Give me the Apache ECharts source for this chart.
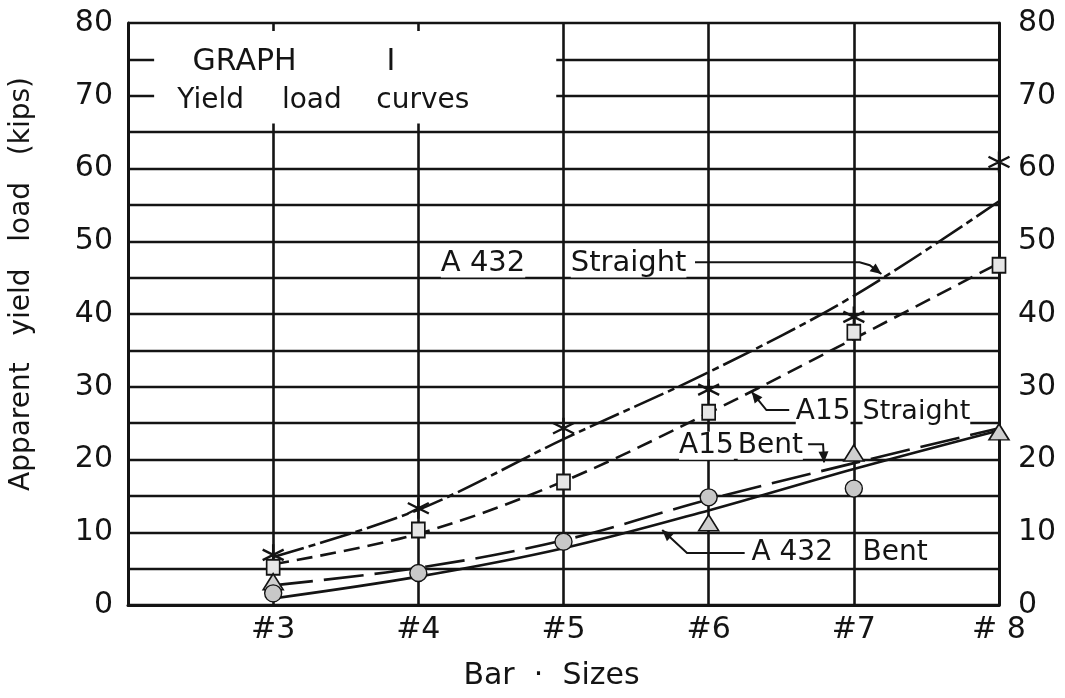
<!DOCTYPE html>
<html><head><meta charset="utf-8">
<script src="https://cdn.jsdelivr.net/npm/echarts@6/dist/echarts.min.js"></script>
<style>html,body{margin:0;padding:0;background:#fff}#c{width:1065px;height:698px}</style>
</head><body><div id="c"></div>
<script>
// ---- data ----
const barSizes = [3, 4, 5, 6, 7, 8];
const xTickLabels = ['', '#3', '#4', '#5', '#6', '#7', '# 8']; // for x = 2..8
const yTickLabels = ['0', '10', '20', '30', '40', '50', '60', '70', '80'];
// fitted curves
const a432StraightCurve = [6.6, 13.1, 22.8, 32.0, 42.5, 55.5];
const a15StraightCurve  = [5.6, 9.8, 17.0, 26.4, 36.6, 47.0];
const a15BentCurve      = [2.7, 5.1, 8.9, 14.5, 19.5, 24.3];
const a432BentCurve     = [0.9, 3.9, 7.8, 13.0, 18.7, 24.0];
// measured points
const a432StraightPts = [6.9, 13.3, 24.3, 29.6, 39.6, 60.9];
const a15StraightPts  = [5.2, 10.3, 16.9, 26.5, 37.5, 46.7];
const a15BentPts      = [3.2, null, null, 11.3, 20.9, 23.8];
const a432BentPts     = [1.6, 4.4, 8.7, 14.8, 16.0, null];

// ---- annotation layout (data coordinates) ----
const FONT = '"DejaVu Sans", sans-serif';
const notes = [
  {t: 'GRAPH', x: 2.445, y: 74.6, s: 30},
  {t: 'I', x: 3.78, y: 74.6, s: 30},
  {t: 'Yield', x: 2.34, y: 69.3, s: 28},
  {t: 'load', x: 3.06, y: 69.3, s: 28},
  {t: 'curves', x: 3.71, y: 69.3, s: 28},
  {t: 'A 432', x: 4.155, y: 47.0, s: 29},
  {t: 'Straight', x: 5.05, y: 47.0, s: 29},
  {t: 'A15', x: 6.60, y: 26.5, s: 28},
  {t: 'Straight', x: 7.06, y: 26.5, s: 27},
  {t: 'A15', x: 5.796, y: 21.9, s: 28},
  {t: 'Bent', x: 6.20, y: 21.9, s: 28},
  {t: 'A 432', x: 6.295, y: 7.15, s: 28},
  {t: 'Bent', x: 7.06, y: 7.15, s: 28}
];
const leaders = [
  [[5.906, 47.1], [7.04, 47.1], [7.11, 46.7], [7.19, 45.5]],
  [[6.555, 26.8], [6.398, 26.8], [6.296, 29.3]],
  [[6.685, 22.1], [6.788, 22.1], [6.795, 19.6]],
  [[6.248, 7.15], [5.851, 7.15], [5.68, 10.3]]
];
const boxArea = [[2.18, 78.9], [4.95, 66.2]];

const INK = '#141414';
const pairs = arr => arr.map((v, i) => [barSizes[i], v]);

const chart = echarts.init(document.getElementById('c'), null, {renderer: 'canvas'});
const star = 'path://M0,-10L0,10M-8.66,-5L8.66,5M-8.66,5L8.66,-5';

function curve(name, data, type) {
  return {
    name, type: 'line', data: pairs(data), smooth: 0.35, showSymbol: false, symbol: 'none',
    lineStyle: {color: INK, width: 2.6, type: type}, z: 3, silent: true
  };
}
function pts(name, data, symbol, size, fill, bw) {
  return {
    name, type: 'scatter', data: pairs(data).filter(p => p[1] != null), symbol, symbolSize: size,
    itemStyle: {color: fill, borderColor: INK, borderWidth: bw, opacity: 1}, z: 4, silent: true
  };
}

const yAxisCommon = {
  type: 'value', min: 0, max: 80, interval: 5,
  axisTick: {show: false},
  axisLine: {show: true, lineStyle: {color: INK, width: 3}},
  axisLabel: {
    fontFamily: FONT, fontSize: 30, color: INK,
    formatter: v => (v % 10 === 0 ? yTickLabels[v / 10] : '')
  }
};

chart.setOption({
  animation: false,
  backgroundColor: '#fff',
  grid: {left: 122, right: 66, top: 23, bottom: 93},
  xAxis: {
    type: 'value', min: 2, max: 8, interval: 1,
    name: 'Bar  ·  Sizes', nameLocation: 'middle', nameGap: 56,
    nameTextStyle: {fontFamily: FONT, fontSize: 30, color: INK, padding: [0, 24, 0, 0]},
    axisTick: {show: false},
    axisLine: {show: true, lineStyle: {color: INK, width: 3}},
    axisLabel: {fontFamily: FONT, fontSize: 30, color: INK, margin: 10,
      formatter: v => xTickLabels[v - 2]},
    splitLine: {show: true, lineStyle: {color: INK, width: 2.6}}
  },
  yAxis: [
    Object.assign({}, yAxisCommon, {
      position: 'left',
      name: 'Apparent   yield   load   (kips)', nameLocation: 'middle', nameGap: 92,
      nameTextStyle: {fontFamily: FONT, fontSize: 28, color: INK, padding: [0, 0, 0, 60]},
      axisLabel: Object.assign({}, yAxisCommon.axisLabel, {margin: 15}),
      splitLine: {show: true, lineStyle: {color: INK, width: 2.4}}
    }),
    Object.assign({}, yAxisCommon, {
      position: 'right',
      axisLabel: Object.assign({}, yAxisCommon.axisLabel, {margin: 19}),
      splitLine: {show: false}
    })
  ],
  series: [
    curve('A432 Straight', a432StraightCurve, [32, 5, 7, 5]),
    curve('A15 Straight', a15StraightCurve, [16, 8]),
    curve('A15 Bent', a15BentCurve, [40, 11]),
    curve('A432 Bent', a432BentCurve, 'solid'),
    pts('A432 Straight pts', a432StraightPts, star, 21, '#bbb', 2.4),
    pts('A15 Straight pts', a15StraightPts, 'rect', [13, 15], '#e6e6e6', 1.8),
    pts('A15 Bent pts', a15BentPts, 'triangle', [20, 16], '#cfcfcf', 1.6),
    pts('A432 Bent pts', a432BentPts, 'circle', 17, '#c8c8c8', 1.4)
  ]
});

// ---- annotations placed through the grid's own scales ----
const P = (x, y) => chart.convertToPixel({gridIndex: 0}, [x, y]);
const g = [];
const b0 = P(boxArea[0][0], boxArea[0][1]), b1 = P(boxArea[1][0], boxArea[1][1]);
g.push({type: 'rect', z: 1, silent: true,
  shape: {x: b0[0], y: b0[1], width: b1[0] - b0[0], height: b1[1] - b0[1]},
  style: {fill: '#fff'}});
notes.forEach(n => {
  const p = P(n.x, n.y);
  g.push({type: 'text', z: 10, silent: true, x: p[0], y: p[1],
    style: {text: n.t, font: n.s + 'px ' + FONT, fill: INK,
      textAlign: 'left', textVerticalAlign: 'middle', align: 'left', verticalAlign: 'middle',
      backgroundColor: '#fff'}});
});
leaders.forEach(l => {
  const pp = l.map(q => P(q[0], q[1]));
  g.push({type: 'polyline', z: 10, silent: true, shape: {points: pp},
    style: {stroke: INK, lineWidth: 2, fill: null}});
  const a = pp[pp.length - 1], bpt = pp[pp.length - 2];
  const ang = Math.atan2(a[1] - bpt[1], a[0] - bpt[0]);
  const L = 11, W = 5;
  const bx = a[0] - L * Math.cos(ang), by = a[1] - L * Math.sin(ang);
  g.push({type: 'polygon', z: 10, silent: true, shape: {points: [
    a, [bx + W * Math.sin(ang), by - W * Math.cos(ang)], [bx - W * Math.sin(ang), by + W * Math.cos(ang)]
  ]}, style: {fill: INK}});
});
chart.setOption({graphic: g});
</script>
</body></html>
